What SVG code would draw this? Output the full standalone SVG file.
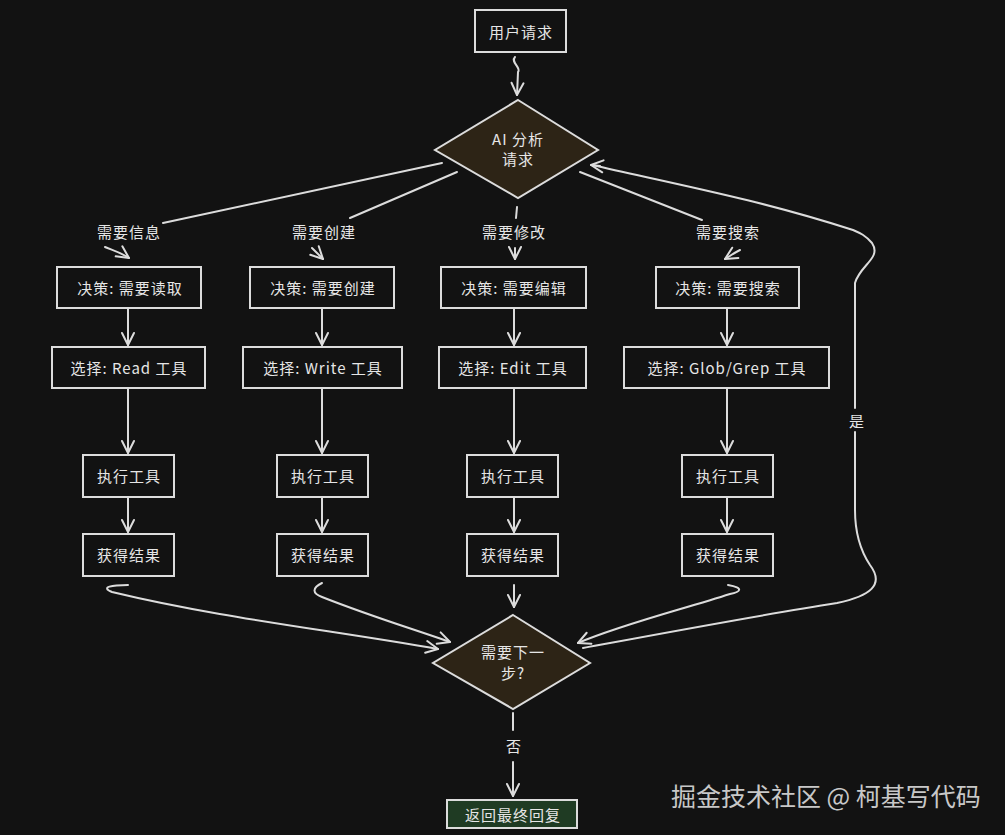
<svg xmlns="http://www.w3.org/2000/svg" width="1005" height="835" viewBox="0 0 1005 835">
<defs>
<marker id="ah" viewBox="-14 -8 16 16" refX="0" refY="0" markerWidth="16" markerHeight="16" markerUnits="userSpaceOnUse" orient="auto">
<path d="M-12,-6 L0,0 L-12,6" fill="none" stroke="#dcdcdc" stroke-width="2" stroke-linecap="round" stroke-linejoin="round"/>
</marker>
<style>
.bx{fill:#121212;stroke:#dcdcdc;stroke-width:2}
.dm{fill:#2d2416;stroke:#dcdcdc;stroke-width:2}
.gn{fill:#1f3b23;stroke:#dcdcdc;stroke-width:2}
.t{font-family:"Noto Sans CJK SC","Noto Sans",sans-serif;font-size:15px;letter-spacing:1px;fill:#e6e6e6;text-anchor:middle;dominant-baseline:central}
.e{fill:none;stroke:#dcdcdc;stroke-width:2;stroke-linecap:round;stroke-linejoin:round}
.ea{fill:none;stroke:#dcdcdc;stroke-width:2;stroke-linecap:round;stroke-linejoin:round;marker-end:url(#ah)}
.wm{font-family:"Noto Sans CJK SC","Noto Sans",sans-serif;font-size:25px;fill:#c8c8c8}
</style>
</defs>
<rect width="1005" height="835" fill="#121212"/>

<g id="connectors">
<path class="ea" d="M515,57 C510,62 522,68 518,72 L517,95"/>
<path class="e" d="M442,163 L163,223"/>
<path class="ea" d="M105,247 C112,250 120,252 129,258"/>
<path class="e" d="M457,172 L350,218"/>
<path class="ea" d="M312,248 C316,252 319,255 323,259"/>
<path class="e" d="M517,207 L516,218"/>
<path class="ea" d="M515,248 L515,259"/>
<path class="e" d="M580,172 L702,220"/>
<path class="ea" d="M740,250 C734,253 730,256 725,259"/>
<path class="ea" d="M128,309 L128,345"/>
<path class="ea" d="M128,389 L128,453"/>
<path class="ea" d="M128,498 L128,532"/>
<path class="ea" d="M322,309 L322,345"/>
<path class="ea" d="M322,389 L322,453"/>
<path class="ea" d="M322,498 L322,532"/>
<path class="ea" d="M514,309 L514,345"/>
<path class="ea" d="M514,389 L514,453"/>
<path class="ea" d="M514,498 L514,532"/>
<path class="ea" d="M727,309 L727,345"/>
<path class="ea" d="M727,389 L727,453"/>
<path class="ea" d="M727,498 L727,532"/>
<path class="ea" d="M128,585 C112,585 100,587 112,592 C220,618 330,630 438,649"/>
<path class="ea" d="M322,583 C312,588 312,593 322,597 C370,616 410,628 450,642"/>
<path class="ea" d="M514,585 L514,607"/>
<path class="ea" d="M728,585 C745,588 740,592 730,594 C680,610 620,625 578,643"/>
<path class="e" d="M583,648 C680,630 760,615 837,603 C870,596 885,585 870,565 C860,550 855,530 855,510 L855,432"/>
<path class="e" d="M855,408 L855,283 C860,265 882,258 872,243 C865,235 860,233 853,230 C760,200 680,185 592,165"/>
<path class="ea" d="M600,166 L591,165"/>
<path class="e" d="M513,713 L513,730"/>
<path class="ea" d="M513,762 L513,796"/>
</g>

<g id="n_user"><rect class="bx" x="475" y="10" width="91" height="42"/><text class="t" x="521" y="31">用户请求</text></g>
<g id="n_ai"><polygon class="dm" points="518,100 598,150 518,198 435,150"/><text class="t" x="518" y="138">AI 分析</text><text class="t" x="518" y="158">请求</text></g>

<g id="lbl_info"><text class="t" x="129" y="231">需要信息</text></g>
<g id="lbl_create"><text class="t" x="324" y="231">需要创建</text></g>
<g id="lbl_modify"><text class="t" x="514" y="231">需要修改</text></g>
<g id="lbl_search"><text class="t" x="728" y="231">需要搜索</text></g>

<g id="n_d1"><rect class="bx" x="57" y="267" width="144" height="41"/><text class="t" x="130" y="287">决策: 需要读取</text></g>
<g id="n_d2"><rect class="bx" x="250" y="267" width="144" height="41"/><text class="t" x="323" y="287">决策: 需要创建</text></g>
<g id="n_d3"><rect class="bx" x="441" y="267" width="145" height="41"/><text class="t" x="514" y="287">决策: 需要编辑</text></g>
<g id="n_d4"><rect class="bx" x="656" y="267" width="143" height="41"/><text class="t" x="728" y="287">决策: 需要搜索</text></g>

<g id="n_s1"><rect class="bx" x="52" y="347" width="153" height="41"/><text class="t" x="129" y="367">选择: Read 工具</text></g>
<g id="n_s2"><rect class="bx" x="243" y="347" width="159" height="41"/><text class="t" x="323" y="367">选择: Write 工具</text></g>
<g id="n_s3"><rect class="bx" x="439" y="347" width="147" height="41"/><text class="t" x="513" y="367">选择: Edit 工具</text></g>
<g id="n_s4"><rect class="bx" x="624" y="347" width="205" height="41"/><text class="t" x="727" y="367">选择: Glob/Grep 工具</text></g>

<g id="n_x1"><rect class="bx" x="83" y="455" width="91" height="42"/><text class="t" x="129" y="475">执行工具</text></g>
<g id="n_x2"><rect class="bx" x="277" y="455" width="91" height="42"/><text class="t" x="323" y="475">执行工具</text></g>
<g id="n_x3"><rect class="bx" x="467" y="455" width="91" height="42"/><text class="t" x="513" y="475">执行工具</text></g>
<g id="n_x4"><rect class="bx" x="682" y="455" width="91" height="42"/><text class="t" x="728" y="475">执行工具</text></g>

<g id="n_r1"><rect class="bx" x="83" y="534" width="91" height="42"/><text class="t" x="129" y="554">获得结果</text></g>
<g id="n_r2"><rect class="bx" x="277" y="534" width="91" height="42"/><text class="t" x="323" y="554">获得结果</text></g>
<g id="n_r3"><rect class="bx" x="467" y="534" width="91" height="42"/><text class="t" x="513" y="554">获得结果</text></g>
<g id="n_r4"><rect class="bx" x="682" y="534" width="91" height="42"/><text class="t" x="728" y="554">获得结果</text></g>

<g id="n_next"><polygon class="dm" points="513,615 590,663 513,709 433,663"/><text class="t" x="513" y="651">需要下一</text><text class="t" x="513" y="672">步?</text></g>

<g id="lbl_yes"><text class="t" x="857" y="420">是</text></g>
<g id="lbl_no"><text class="t" x="514" y="745">否</text></g>

<g id="n_final"><rect class="gn" x="447" y="800" width="130" height="28"/><text class="t" x="513" y="814">返回最终回复</text></g>

<text class="wm" x="671" y="806">掘金技术社区 @ 柯基写代码</text>
</svg>
